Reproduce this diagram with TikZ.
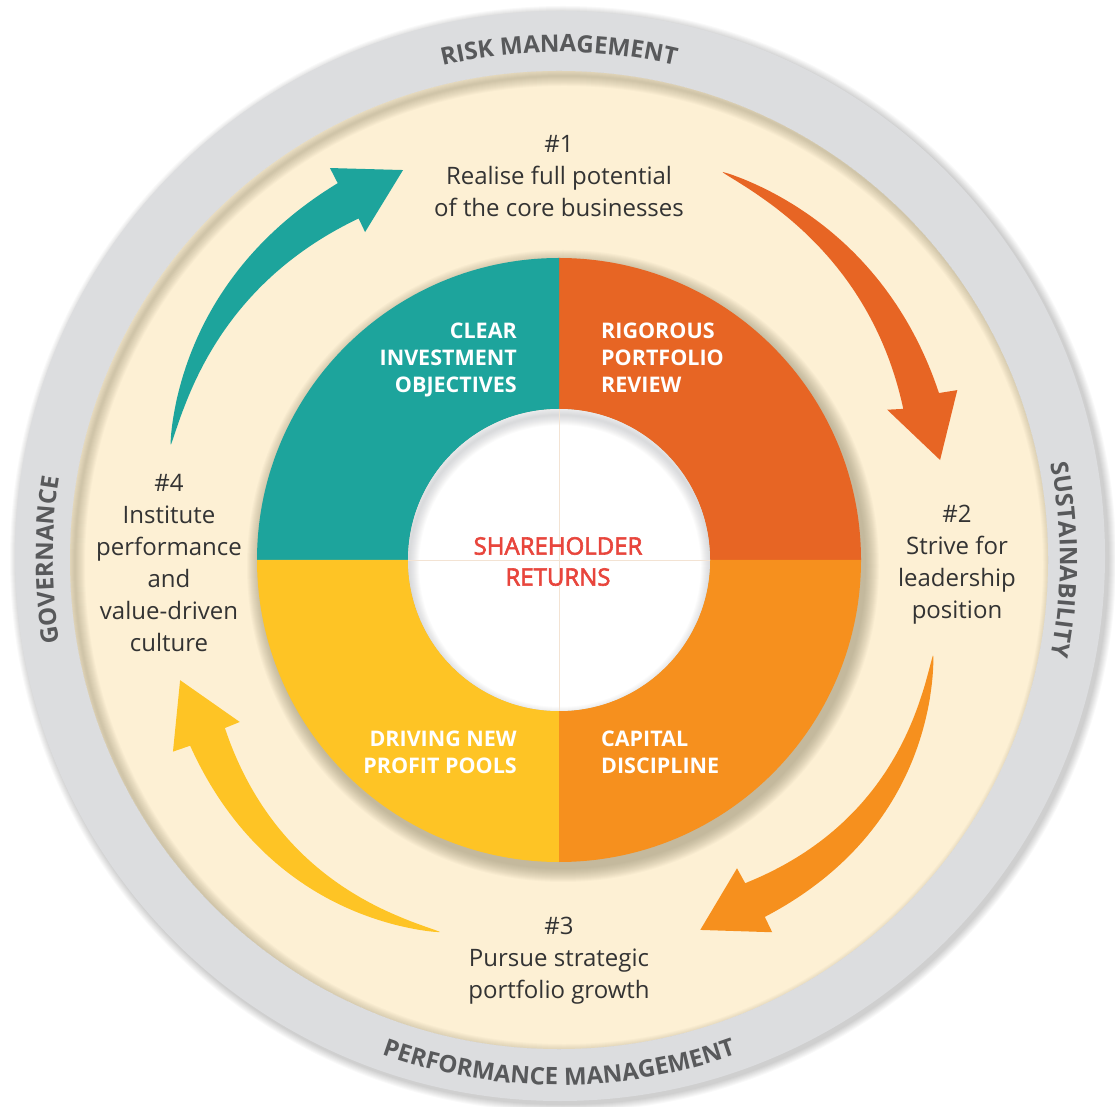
\documentclass[tikz,border=0pt]{standalone}
\usepackage{fontspec}
\setmainfont{Open Sans}
\newfontfamily\sharefont{Open Sans}[UprightFeatures={FakeBold=2.5}]
\usetikzlibrary{decorations.text,calc}
\definecolor{cteal}{HTML}{1DA49C}
\definecolor{cred}{HTML}{E76524}
\definecolor{corange}{HTML}{F6901E}
\definecolor{cyellow}{HTML}{FEC425}
\definecolor{ccream}{HTML}{FDF0D4}
\definecolor{cgray}{HTML}{DCDDDF}
\definecolor{clabel}{HTML}{58595B}
\definecolor{ctext}{HTML}{333333}
\definecolor{cshare}{HTML}{E8453C}
\definecolor{cshadow}{HTML}{8C8468}
\definecolor{cwshadow}{HTML}{9A9DA3}
\definecolor{cline}{HTML}{F3E3D3}
\newcommand{\ringfont}{\fontsize{24}{24}\selectfont\bfseries}
\newcommand{\carrow}[8]{%
  \fill[#1] plot[domain=0.002:1, samples=60, variable=\t]
    ({(#2)+((#4)-(#2))*\t}:{(#3)+((#5)-(#3))*\t+(#6)*sin(180*\t)+(#7)*\t^0.75})
    #8
    -- plot[domain=1:0.002, samples=60, variable=\t]
    ({(#2)+((#4)-(#2))*\t}:{(#3)+((#5)-(#3))*\t+(#6)*sin(180*\t)-(#7)*\t^0.75})
    -- cycle;}
\begin{document}
\begin{tikzpicture}[x=1pt,y=1pt,
  bodytext/.style={font=\fontsize{24}{32}\selectfont, text=ctext, align=center, inner sep=0pt},
  quadtext/.style={font=\fontsize{21.5}{27}\selectfont\bfseries, text=white, inner sep=0pt},
  sharetext/.style={font=\sharefont\fontsize{24}{31}\selectfont, text=cshare, align=center, inner sep=0pt},
  ringlabel/.style={decorate, decoration={text along path, text align=center, text color=clabel, text={#1}}}
]
\useasboundingbox (0,0) rectangle (1115,1106);
\fill[white] (0,0) rectangle (1115,1106);
\coordinate (C) at (559,546);
\coordinate (G) at (560,550);
% outer gray ring with soft shadow
\foreach \i in {1,...,8}
  \fill[black, opacity=0.025] ($(G)+(3,-3)$) circle ({545+9-\i});
\fill[cgray] (G) circle (545);
% cream disc with inner shadow
\fill[ccream] (C) circle (489);
\begin{scope}
  \clip (C) circle (489);
  \foreach \i in {1,...,10}
    \draw[cshadow, opacity=0.045, line width=\i*2pt] ($(C)+(5,-5)$) circle (489);
\end{scope}
% drop shadow of coloured ring
\foreach \i in {0,...,13}
  \fill[cshadow, opacity=0.045] ($(C)+(4,-6)$) circle ({302+14-\i});
% quadrants
\begin{scope}[shift={(C)}]
  \fill[cred] (0:302) arc[start angle=0, end angle=90, radius=302] -- (90:151) arc[start angle=90, end angle=0, radius=151] -- cycle;
  \fill[cteal] (90:302) arc[start angle=90, end angle=180, radius=302] -- (180:151) arc[start angle=180, end angle=90, radius=151] -- cycle;
  \fill[cyellow] (180:302) arc[start angle=180, end angle=270, radius=302] -- (270:151) arc[start angle=270, end angle=180, radius=151] -- cycle;
  \fill[corange] (270:302) arc[start angle=270, end angle=360, radius=302] -- (0:151) arc[start angle=0, end angle=-90, radius=151] -- cycle;
\end{scope}
% white centre with inner shadow
\fill[white] (C) circle (151);
\begin{scope}
  \clip (C) circle (151);
  \foreach \i in {1,...,10}
    \draw[cwshadow, opacity=0.04, line width=\i*2pt] ($(C)+(1,-6)$) circle (151);
  \draw[cline, line width=0.8pt] ($(C)+(0,-151)$) -- ($(C)+(0,151)$);
  \draw[cline, line width=0.8pt] ($(C)+(-151,0)$) -- ($(C)+(151,0)$);
\end{scope}
% curved arrows
\begin{scope}[shift={(C)}]
  \carrow{cteal}{163.5}{405}{120.4}{416.5}{7}{20.5}{-- (120.3:454) -- (111.8:420) -- (120.6:381)}
  \carrow{cred}{67.2}{421}{23.7}{395.5}{6}{19.5}{-- (23.1:433) -- (14.7:394) -- (24.6:361)}
  \carrow{corange}{-14.25}{386}{-60.05}{392.5}{11}{19.5}{-- (-60.2:429) -- (-69.1:396) -- (-60:356)}
  \carrow{cyellow}{252.3}{390.6}{206.7}{393.5}{10}{19.5}{-- (206.4:431) -- (197.6:397.5) -- (206.9:358)}
\end{scope}
% ring labels
\begin{scope}[shift={(C)}]
  \path[ringlabel={|\ringfont|RISK MANAGEMENT}] (150:508) arc[start angle=150, end angle=30, radius=508];
  \path[ringlabel={|\ringfont|PERFORMANCE MANAGEMENT}] (200:525) arc[start angle=200, end angle=340, radius=525];
  \path[ringlabel={|\ringfont|SUSTAINABILITY}] (60:501) arc[start angle=60, end angle=-60, radius=501];
  \path[ringlabel={|\ringfont|GOVERNANCE}] (240:506) arc[start angle=240, end angle=120, radius=506];
\end{scope}
% stage texts
\node[bodytext] (s1) at (559,930) {\#1\\Realise full potential\\of the core businesses};
\node[bodytext] (s2) at (957,541) {\#2\\Strive for\\leadership\\position};
\node[bodytext] (s3) at (559,145) {\#3\\Pursue strategic\\portfolio growth};
\node[bodytext] (s4) at (169,543) {\#4\\Institute\\performance\\and\\value-driven\\culture};
% quadrant texts
\node[quadtext, align=right, anchor=east] (q1) at (517,746.5) {CLEAR\\INVESTMENT\\OBJECTIVES};
\node[quadtext, align=left, anchor=west] (q2) at (601,748.5) {RIGOROUS\\PORTFOLIO\\REVIEW};
\node[quadtext, align=right, anchor=east] (q3) at (517,353.5) {DRIVING NEW\\PROFIT POOLS};
\node[quadtext, align=left, anchor=west] (q4) at (601,353.5) {CAPITAL\\DISCIPLINE};
\node[sharetext] (sr) at (558,544.5) {SHAREHOLDER\\RETURNS};
\end{tikzpicture}
\end{document}
